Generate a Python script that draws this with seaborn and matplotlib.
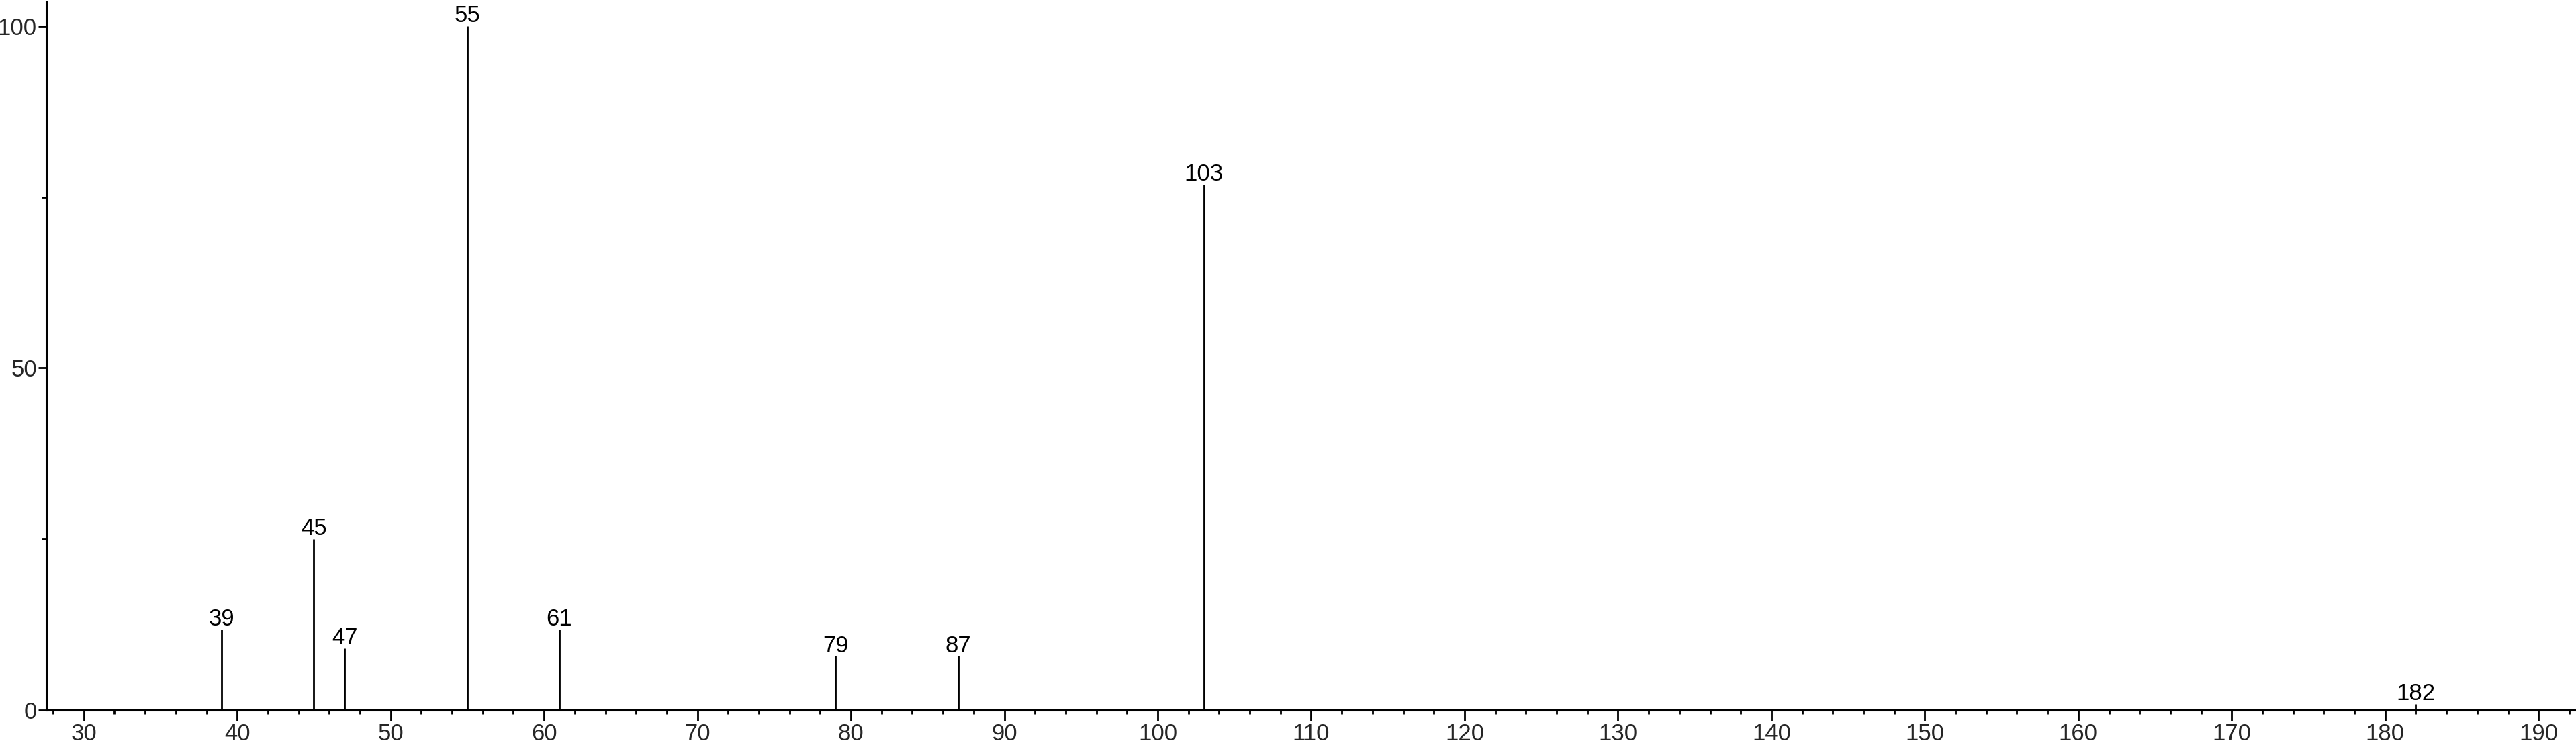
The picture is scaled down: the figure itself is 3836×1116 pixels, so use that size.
import matplotlib

matplotlib.use("Agg")
import matplotlib.pyplot as plt
import pandas as pd
import seaborn as sns
from matplotlib.ticker import MultipleLocator

# %%
mz = [39, 45, 47, 55, 61, 79, 87, 103, 182]
intensity = [11.8, 25.0, 9.0, 100.0, 11.8, 7.9, 7.9, 76.8, 0.9]
x_ticks = [30, 40, 50, 60, 70, 80, 90, 100, 110, 120, 130, 140, 150, 160, 170, 180, 190]
y_ticks = [0, 50, 100]

df = pd.DataFrame({"mz": mz, "intensity": intensity})

# %%
sns.set_theme(style="ticks")
plt.rcParams["font.family"] = ["Liberation Sans", "DejaVu Sans"]

fig = plt.figure(figsize=(38.36, 11.16), dpi=100)
ax = fig.add_axes([69 / 3836, 1 - 1058 / 1116, 1 - 69 / 3836, (1058 - 3) / 1116])

ax.vlines(df["mz"], 0, df["intensity"], color="black", linewidth=2.0)
for _, row in df.iterrows():
    ax.annotate(
        f"{int(row['mz'])}",
        (row["mz"], row["intensity"]),
        xytext=(0, 4.3),
        textcoords="offset points",
        ha="center",
        va="baseline",
        fontsize=25,
        color="black",
    )

ax.set_xlim(27.56, 192.44)
ax.set_ylim(0, 103.5)
ax.set_xticks(x_ticks)
ax.set_yticks(y_ticks)
ax.xaxis.set_minor_locator(MultipleLocator(2))
ax.yaxis.set_minor_locator(MultipleLocator(25))
ax.tick_params(axis="x", which="major", length=11.5, width=2, labelsize=25, pad=2.5, color="black")
ax.tick_params(axis="x", which="minor", length=4.3, width=2, color="black")
ax.tick_params(axis="y", which="major", length=8.6, width=2, labelsize=25, pad=1.5, color="black")
ax.tick_params(axis="y", which="minor", length=5, width=2, color="black")
ax.set_xlabel("")
ax.set_ylabel("")
sns.despine(ax=ax)
for side in ["left", "bottom"]:
    ax.spines[side].set_linewidth(2.2)
    ax.spines[side].set_color("black")

fig.savefig("out.png", dpi=100)
